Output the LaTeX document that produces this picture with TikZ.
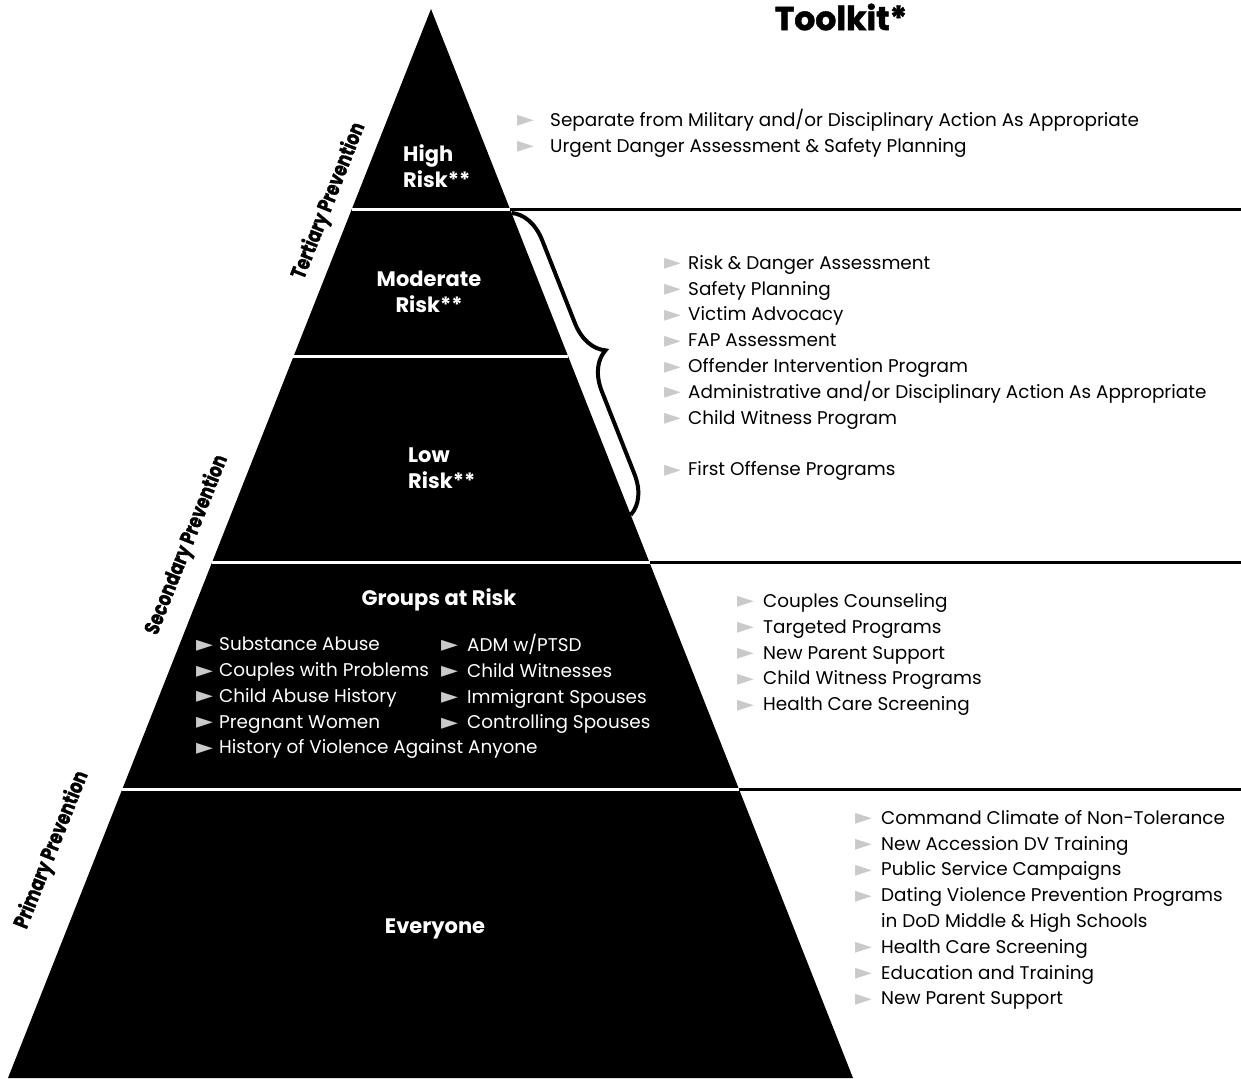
\documentclass[tikz,border=0pt]{standalone}
\usepackage{fontspec}
\setmainfont{Poppins}
\newfontfamily\heavyfont{Poppins}[BoldFeatures = {FakeBold = 1.5}]
\newfontfamily\symfont{DejaVu Sans}
\usetikzlibrary{calc,decorations.pathreplacing}

\definecolor{bulletgray}{HTML}{CACACA}
% grey pointer in front of every list line
\newcommand{\tri}{\raisebox{-0.5pt}{\symfont\fontsize{22}{22}\selectfont\char"25BA}}
\newcommand{\bul}[1][26pt]{\makebox[#1][l]{\textcolor{bulletgray}{\tri}}}

\begin{document}
\begin{tikzpicture}[
				x = 1pt, y = -1pt, % pixel units, y runs down
				every node/.style = {inner sep = 0pt},
				listtext/.style = {anchor = west, align = left, font = \fontsize{18.4}{25.8}\selectfont},
				band/.style = {white, font = \bfseries\fontsize{21}{26}\selectfont},
				level/.style = {font = \heavyfont\bfseries\fontsize{21}{21}\selectfont, rotate = 68.4},
				rule/.style = {line width = 3pt}
				]
				
				\useasboundingbox (0,0) rectangle (1241,1078);
				\coordinate (edge) at (1241,0);
				
				% the pyramid
				\coordinate (apex) at (431,9);
				\coordinate (bl) at (8,1078);
				\coordinate (br) at (853,1078);
				\fill (apex) -- (br) -- (bl) -- cycle;
				
				% band borders on both sides
				\foreach \n/\t in {1/0.1871, 2/0.3255, 3/0.5182, 4/0.7297} {
					\coordinate (l\n) at ($(apex)!\t!(bl)$);
					\coordinate (r\n) at ($(apex)!\t!(br)$);
					\draw[rule, white] (l\n) -- (r\n);
				}
				\foreach \n in {1,3,4}
					\draw[rule] (r\n) -- (r\n -| edge);
				
				% brace over moderate and low risk
				\coordinate (b1) at ($(apex)!0.1908!(br)$);
				\coordinate (b2) at ($(apex)!0.4733!(br)$);
				\draw[decorate, decoration = {brace, amplitude = 37pt, aspect = 0.5}, line width = 4pt] (b1) -- (b2);
				
				\node[font = \heavyfont\bfseries\fontsize{33}{33}\selectfont] (title) at (841,17) {Toolkit*};
				
				% levels along the left side
				\node[level] (tert) at (329,201) {\scalebox{0.8}[1]{Tertiary Prevention}};
				\node[level] (sec) at (187,545) {\scalebox{0.8}[1]{Secondary Prevention}};
				\node[level] (prim) at (52,850) {\scalebox{0.8}[1]{Primary Prevention}};
				
				% bands
				\node[band, anchor = west, align = left] (high) at (403,166) {High\\Risk**};
				\node[band, align = center] (moderate) at (429,292) {Moderate\\Risk**};
				\node[band, anchor = west, align = left] (low) at (408,468) {Low\\Risk**};
				\node[band] (groups) at (439,600) {Groups at Risk};
				\node[band] (everyone) at (435,929) {Everyone};
				
				\node[listtext, white] (grpleft) at (196,698) {\bul[23pt]Substance Abuse\\\bul[23pt]Couples with Problems\\\bul[23pt]Child Abuse History\\\bul[23pt]Pregnant Women\\\bul[23pt]History of Violence Against Anyone};
				\node[listtext, white] (grpright) at (441,684) {\bul ADM w/PTSD\\\bul Child Witnesses\\\bul Immigrant Spouses\\\bul Controlling Spouses};
				
				% toolkit lists
				\node[listtext] (highlist) at (517,133) {\bul[33pt]Separate from Military and/or Disciplinary Action As Appropriate\\\bul[33pt]Urgent Danger Assessment \& Safety Planning};
				\node[listtext] (modlist) at (664,368) {\bul[24pt]Risk \& Danger Assessment\\\bul[24pt]Safety Planning\\\bul[24pt]Victim Advocacy\\\bul[24pt]FAP Assessment\\\bul[24pt]Offender Intervention Program\\\bul[24pt]Administrative and/or Disciplinary Action As Appropriate\\\bul[24pt]Child Witness Program\\[25.8pt]\bul[24pt]First Offense Programs};
				\node[listtext] (grplist) at (737,654.5) {\bul Couples Counseling\\\bul Targeted Programs\\\bul New Parent Support\\\bul Child Witness Programs\\\bul Health Care Screening};
				\node[listtext] (primlist) at (855,910) {\bul Command Climate of Non-Tolerance\\\bul New Accession DV Training\\\bul Public Service Campaigns\\\bul Dating Violence Prevention Programs\\\hspace*{26pt}in DoD Middle \& High Schools\\\bul Health Care Screening\\\bul Education and Training\\\bul New Parent Support};
				
			\end{tikzpicture}
\end{document}
